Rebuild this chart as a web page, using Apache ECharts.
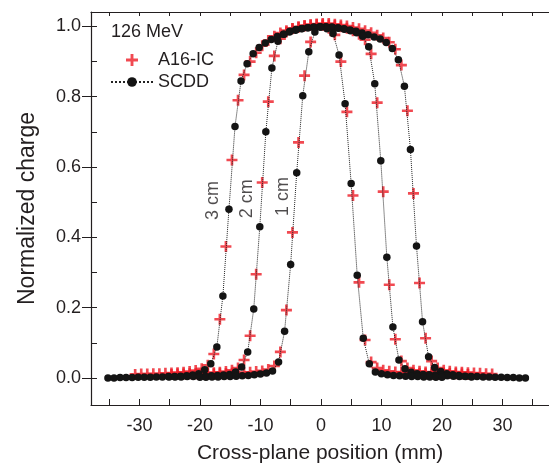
<!DOCTYPE html>
<html>
<head>
<meta charset="utf-8">
<script src="https://cdn.jsdelivr.net/npm/echarts@6/dist/echarts.min.js"></script>
<style>
html,body{margin:0;padding:0;background:#fff;}
#chart{width:549px;height:469px;}
</style>
</head>
<body>
<div id="chart"></div>
<script>
// lateral profiles, 126 MeV, at 1/2/3 cm depth

var x3SCDD = [-35.2,-34.2,-33.2,-32.2,-31.2,-30.2,-29.2,-28.2,-27.2,-26.2,-25.2,-24.2,-23.2,-22.2,-21.2,-20.2,-19.2,-18.2,-17.2,-16.2,-15.2,-14.2,-13.2,-12.2,-11.2,-10.2,-9.2,-8.2,-7.2,-6.2,-5.2,-4.2,-3.2,-2.2,-1.2,-0.2,0.8,1.8,2.8,3.8,4.8,5.8,6.8,7.8,8.8,9.8,10.8,11.8,12.8,13.8,14.8,15.8,16.8,17.8,18.8,19.8,20.8,21.8,22.8,23.8,24.8,25.8,26.8,27.8,28.8,29.8,30.8,31.8,32.8,33.8];
var y3SCDD = [0.000,0.000,0.001,0.001,0.001,0.002,0.002,0.002,0.003,0.003,
              0.004,0.004,0.005,0.006,0.008,0.012,0.023,0.040,0.088,0.233,
              0.480,0.715,0.845,0.894,0.922,0.940,0.953,0.963,0.971,0.978,
              0.984,0.989,0.993,0.996,0.998,0.999,0.999,0.998,0.996,0.993,
              0.990,0.986,0.981,0.976,0.970,0.964,0.954,0.937,0.905,0.830,
              0.650,0.375,0.160,0.060,0.030,0.018,0.012,0.009,0.007,0.005,
              0.004,0.004,0.003,0.003,0.002,0.002,0.001,0.001,0.000,0.000];

var x3A16 = [-30.7,-29.7,-28.7,-27.7,-26.7,-25.7,-24.7,-23.7,-22.7,-21.7,-20.7,-19.7,-18.7,-17.7,-16.7,-15.7,-14.7,-13.7,-12.7,-11.7,-10.7,-9.7,-8.7,-7.7,-6.7,-5.7,-4.7,-3.7,-2.7,-1.7,-0.7,0.3,1.3,2.3,3.3,4.3,5.3,6.3,7.3,8.3,9.3,10.3,11.3,12.3,13.3,14.3,15.3,16.3,17.3,18.3,19.3,20.3,21.3,22.3,23.3,24.3,25.3,26.3,27.3,28.3];
var y3A16 = [0.010,0.011,0.011,0.012,0.012,0.013,0.014,0.015,0.016,0.018,
             0.021,0.026,0.036,0.068,0.167,0.374,0.620,0.790,0.862,0.900,
             0.925,0.945,0.960,0.972,0.981,0.988,0.994,0.998,1.002,1.005,
             1.007,1.008,1.008,1.006,1.004,1.001,0.997,0.993,0.988,0.982,
             0.975,0.967,0.955,0.935,0.890,0.760,0.525,0.270,0.113,0.048,
             0.028,0.022,0.019,0.017,0.016,0.015,0.014,0.013,0.012,0.011];

var x2SCDD = [-25.1,-24.1,-23.1,-22.1,-21.1,-20.1,-19.1,-18.1,-17.1,-16.1,-15.1,-14.1,-13.1,-12.1,-11.1,-10.1,-9.1,-8.1,-7.1,-6.1,-5.1,-4.1,-3.1,-2.1,-1.1,-0.1,0.9,1.9,2.9,3.9,4.9,5.9,6.9,7.9,8.9,9.9,10.9,11.9,12.9,13.9,14.9,15.9,16.9,17.9,18.9,19.9,20.9,21.9,22.9,23.9,24.9];
var y2SCDD = [0.003,0.003,0.003,0.004,0.004,0.005,0.005,0.006,0.007,0.008,
              0.010,0.017,0.031,0.074,0.196,0.430,0.700,0.882,0.958,0.978,
              0.986,0.991,0.994,0.996,0.997,0.998,0.998,0.997,0.995,0.992,
              0.988,0.982,0.972,0.942,0.837,0.618,0.343,0.145,0.051,0.026,
              0.016,0.012,0.010,0.009,0.008,0.007,0.006,0.005,0.004,0.004,0.003];

var x2A16 = [-24.7,-23.7,-22.7,-21.7,-20.7,-19.7,-18.7,-17.7,-16.7,-15.7,-14.7,-13.7,-12.7,-11.7,-10.7,-9.7,-8.7,-7.7,-6.7,-5.7,-4.7,-3.7,-2.7,-1.7,-0.7,0.3,1.3,2.3,3.3,4.3,5.3,6.3,7.3,8.3,9.3,10.3,11.3,12.3,13.3,14.3,15.3,16.3,17.3,18.3,19.3,20.3,21.3,22.3,23.3,24.3];
var y2A16 = [0.010,0.011,0.011,0.012,0.012,0.013,0.014,0.015,0.016,0.018,
             0.022,0.028,0.051,0.120,0.295,0.556,0.786,0.916,0.965,0.984,
             0.993,0.998,1.002,1.004,1.005,1.005,1.004,1.002,0.999,0.995,
             0.988,0.978,0.962,0.922,0.783,0.530,0.265,0.110,0.048,0.028,
             0.022,0.019,0.017,0.016,0.015,0.014,0.013,0.012,0.011,0.010];

var x1SCDD = [-20,-19,-18,-17,-16,-15,-14,-13,-12,-11,-10,-9,-8,-7,-6,-5,-4,-3,-2,-1,0,1,2,3,4,5,6,7,8,9,10,11,12,13,14,15,16,17,18,19,20];
var y1SCDD = [0.002,0.002,0.003,0.003,0.004,0.004,0.005,0.006,0.007,0.009,
              0.011,0.014,0.020,0.045,0.133,0.323,0.584,0.803,0.928,0.984,
              0.998,0.993,0.980,0.919,0.780,0.553,0.292,0.113,0.040,0.017,
              0.012,0.009,0.007,0.006,0.005,0.004,0.004,0.003,0.003,0.002,0.002];

var x1A16 = [-19.7,-18.7,-17.7,-16.7,-15.7,-14.7,-13.7,-12.7,-11.7,-10.7,-9.7,-8.7,-7.7,-6.7,-5.7,-4.7,-3.7,-2.7,-1.7,-0.7,0.3,1.3,2.3,3.3,4.3,5.3,6.3,7.3,8.3,9.3,10.3,11.3,12.3,13.3,14.3,15.3,16.3,17.3,18.3,19.3];
var y1A16 = [0.010,0.011,0.011,0.012,0.012,0.013,0.014,0.015,0.016,0.018,
             0.020,0.024,0.034,0.074,0.193,0.414,0.670,0.860,0.956,0.995,
             1.003,0.995,0.976,0.900,0.757,0.519,0.272,0.108,0.045,0.028,
             0.022,0.019,0.017,0.016,0.015,0.014,0.013,0.012,0.011,0.010];

// depth labels (x, y, text)
var depthLabels = [[-17.85, 0.505, '3 cm'], [-12.2, 0.51, '2 cm'], [-6.3, 0.516, '1 cm']];

var xLabels = [-30, -20, -10, 0, 10, 20, 30];
var xTicks = [-35, -30, -25, -20, -15, -10, -5, 0, 5, 10, 15, 20, 25, 30, 35];
var yLabels = [0, 0.2, 0.4, 0.6, 0.8, 1.0];
var yMinor = [0.1, 0.3, 0.5, 0.7, 0.9];

var ink = '#231f20';
var red = '#ee1c25';
var plus = 'path://M3.8,0H6.2V3.8H10V6.2H6.2V10H3.8V6.2H0V3.8H3.8Z';

function pairs(xs, ys) {
    var out = [];
    for (var i = 0; i < xs.length; i++) out.push([xs[i], ys[i]]);
    return out;
}

function a16(xs, ys) {
    return {
        name: 'A16-IC', type: 'scatter', data: pairs(xs, ys),
        symbol: plus, symbolSize: 11, symbolKeepAspect: true,
        itemStyle: {color: red}, z: 3, silent: true
    };
}

function scdd(xs, ys) {
    return {
        name: 'SCDD', type: 'line', data: pairs(xs, ys),
        symbol: 'circle', symbolSize: 7.5, showAllSymbol: true,
        itemStyle: {color: '#141414'},
        lineStyle: {color: '#222', width: 1, type: 'dotted'},
        z: 4, silent: true
    };
}

var font = 'Liberation Sans, Arial, Helvetica, sans-serif';

var chart = echarts.init(document.getElementById('chart'));
var option = {
    animation: false,
    backgroundColor: '#fff',
    textStyle: {fontFamily: font, color: ink},
    title: {
        text: '126 MeV', left: 106, top: 18,
        textStyle: {fontFamily: font, fontSize: 18, fontWeight: 'normal', color: ink}
    },
    legend: {
        data: ['A16-IC', 'SCDD'],
        orient: 'vertical', left: 105, top: 45,
        itemWidth: 42, itemHeight: 12, itemGap: 2,
        textStyle: {fontFamily: font, fontSize: 18, color: ink, lineHeight: 20}
    },
    grid: {left: 91, right: 0, top: 12, bottom: 63},
    xAxis: [{
        type: 'value', min: -38, max: 37.7, position: 'bottom',
        name: 'Cross-plane position (mm)', nameLocation: 'middle', nameGap: 38,
        nameTextStyle: {fontFamily: font, fontSize: 21, color: ink},
        axisLine: {onZero: false, lineStyle: {color: ink, width: 1.2}},
        axisTick: {inside: true, length: 6, customValues: xTicks, lineStyle: {color: ink}},
        axisLabel: {customValues: xLabels, fontSize: 18, color: ink, margin: 12, fontFamily: font},
        splitLine: {show: false}
    }, {
        type: 'value', min: -38, max: 37.7, position: 'top',
        axisLine: {onZero: false, lineStyle: {color: ink, width: 1.2}},
        axisTick: {inside: true, length: 4, customValues: xTicks, lineStyle: {color: ink}},
        axisLabel: {show: false},
        splitLine: {show: false}
    }],
    yAxis: [{
        type: 'value', min: -0.077, max: 1.041, position: 'left',
        name: 'Normalized charge', nameLocation: 'middle', nameGap: 52,
        nameTextStyle: {fontFamily: font, fontSize: 23, color: ink},
        axisLine: {onZero: false, lineStyle: {color: ink, width: 1.2}},
        axisTick: {inside: false, length: 9, customValues: yLabels, lineStyle: {color: ink}},
        axisLabel: {
            customValues: yLabels, fontSize: 18, color: ink, margin: 10, fontFamily: font,
            formatter: function (v) { return v.toFixed(1); }
        },
        splitLine: {show: false}
    }, {
        type: 'value', min: -0.077, max: 1.041, position: 'left',
        axisLine: {show: false, onZero: false},
        axisTick: {inside: true, length: 6, customValues: yLabels.concat(yMinor), lineStyle: {color: ink}},
        axisLabel: {show: false},
        splitLine: {show: false}
    }],
    series: [
        a16(x3A16, y3A16), a16(x2A16, y2A16), a16(x1A16, y1A16),
        scdd(x3SCDD, y3SCDD), scdd(x2SCDD, y2SCDD), scdd(x1SCDD, y1SCDD),
        {
            name: 'depth', type: 'scatter', data: depthLabels,
            symbolSize: 1, itemStyle: {color: 'rgba(0,0,0,0)'}, silent: true, z: 5,
            label: {
                show: true, position: 'inside', rotate: 90,
                fontFamily: font, fontSize: 18, color: ink,
                formatter: function (p) { return p.data[2]; }
            }
        }
    ]
};
chart.setOption(option);
</script>
</body>
</html>
